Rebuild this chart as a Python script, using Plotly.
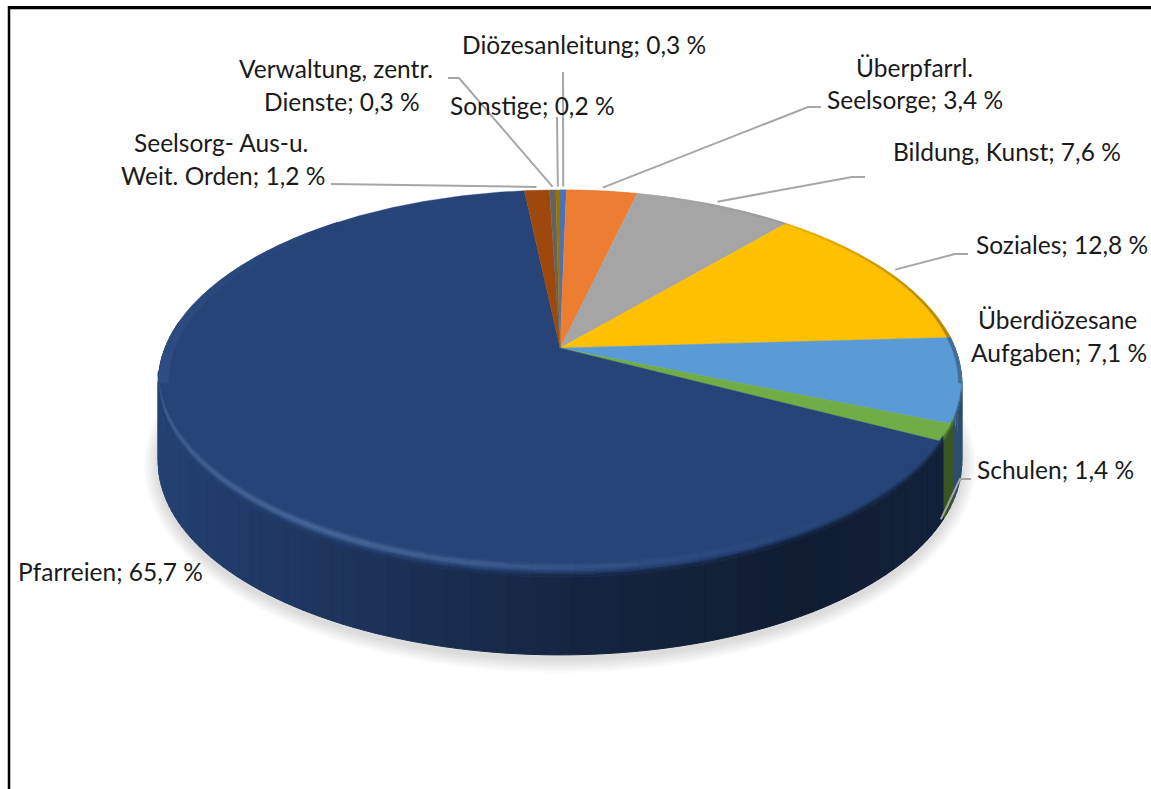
import numpy as np
import plotly.graph_objects as go

# ---------- data ----------
categories = ["Diözesanleitung", "Überpfarrl. Seelsorge", "Bildung, Kunst", "Soziales",
              "Überdiözesane Aufgaben", "Schulen", "Pfarreien", "Seelsorg- Aus-u. Weit. Orden",
              "Verwaltung, zentr. Dienste", "Sonstige"]
values = [0.3, 3.4, 7.6, 12.8, 7.1, 1.4, 65.7, 1.2, 0.3, 0.2]
colors = ["#4472c4", "#ed7d31", "#a5a5a5", "#ffc000", "#5b9bd5",
          "#70ad47", "#264478", "#9e480e", "#636363", "#997300"]

# ---------- projection of the tilted disc ----------
CX, CY, A, B, K, DEPTH = 560, 348, 395, 187, 0.183, 78
FONT = "Lato"
FS = 24.5


def proj(theta_deg, r=1.0):
    t = np.radians(theta_deg)
    u, v = r * np.sin(t), r * np.cos(t)
    w = 1 + K * v
    return CX + A * u / w, CY - B * v / w


def rgb(h):
    return np.array([int(h[i:i + 2], 16) for i in (1, 3, 5)], float)


def hx(c):
    c = np.clip(np.round(c / 2) * 2, 0, 255).astype(int)
    return "#%02x%02x%02x" % tuple(c)


def side_factor(x):
    return np.interp(x, [157, 300, 560, 800, 960], [0.95, 0.8, 0.55, 0.42, 0.5])


total = sum(values)
edges = np.concatenate([[0], np.cumsum(values)]) / total * 360
mids = (edges[:-1] + edges[1:]) / 2

fig = go.Figure()


def poly(xs, ys, color, lw=0.7):
    fig.add_trace(go.Scatter(x=xs, y=ys, mode="lines", fill="toself", fillcolor=color,
                             line=dict(color=color, width=lw), hoverinfo="skip",
                             showlegend=False))


# ---------- soft shadow ----------
ang = np.linspace(0, 360, 181)
for d in np.arange(14, 0, -2):
    sx, sy = proj(ang)
    cy0 = (sy.max() + sy.min()) / 2
    rx = (sx.max() - sx.min()) / 2
    ry = (sy.max() - sy.min()) / 2
    xs = CX + (sx - CX) * (rx + d) / rx
    ys = cy0 + DEPTH + 4 + (sy - cy0) * (ry + d) / ry
    poly(xs, ys, "rgba(0,0,0,0.019)", lw=0)

# ---------- side wall, grouped by quantised colour ----------
groups = {}
for i in range(len(values)):
    lo, hi = max(edges[i], 85), min(edges[i + 1], 278)
    if hi <= lo:
        continue
    n = max(1, int((hi - lo) / 1.5))
    grid = np.linspace(lo, hi, n + 1)
    for s, e in zip(grid[:-1], grid[1:]):
        x, y = proj(np.linspace(s, e, 4))
        col = hx(rgb(colors[i]) * side_factor(x.mean()))
        g = groups.setdefault(col, ([], []))
        g[0].extend(list(x) + list(x[::-1]) + [x[0], None])
        g[1].extend(list(y) + list(y[::-1] + DEPTH) + [y[0], None])
for col, (gx, gy) in groups.items():
    poly(gx, gy, col, lw=1.0)

# ---------- top face ----------
for i in range(len(values)):
    aa = np.linspace(edges[i], edges[i + 1], max(3, int(values[i] * 12)))
    x, y = proj(aa)
    poly([CX] + list(x) + [CX], [CY] + list(y) + [CY], colors[i], lw=0.4)

# ---------- bevel: strips displaced vertically from the front rim ----------
offsets = np.arange(-18, 1.5, 1.5)
rgroups = {}
for i in range(len(values)):
    lo, hi = max(edges[i], 100.5), min(edges[i + 1], 259.5)
    if hi <= lo:
        continue
    n = max(1, int((hi - lo) / 2.5))
    grid = np.linspace(lo, hi, n + 1)
    base = rgb(colors[i])
    for s, e in zip(grid[:-1], grid[1:]):
        m = (s + e) / 2
        H = np.exp(-((m - 215) / 42) ** 2) if m < 215 else 1 - 0.35 * (m - 215) / 45
        fade = np.clip((259.5 - m) / 8, 0, 1) * np.clip((m - 100.5) / 5, 0, 1)
        xm = proj(m)[0]
        sidec = base * side_factor(xm)
        for d0, d1 in zip(offsets[:-1], offsets[1:]):
            dm = (d0 + d1) / 2
            q = np.clip((dm + 7) / 8, 0, 1)
            q = q * q * (3 - 2 * q) * fade
            c = base * (1 - q) + sidec * q
            glow = H * fade * np.exp(-((dm + 9.5) / 3.2) ** 2) * 0.3
            c = c * (1 - glow) + np.array([150, 180, 225]) * glow
            if np.allclose(c, base, atol=2):
                continue
            aa = np.linspace(s, e, 3)
            xa, ya = proj(aa)
            col = hx(c)
            g = rgroups.setdefault(col, ([], []))
            g[0].extend(list(xa) + list(xa[::-1]) + [xa[0], None])
            g[1].extend(list(ya + d0) + list(ya[::-1] + d1) + [ya[0] + d0, None])
for col, (gx, gy) in rgroups.items():
    poly(gx, gy, col, lw=0.6)

# darker outer edge on the right, lighter outer edge on the left of the disc
edge_bands = {}
for i in range(len(values)):
    for lo, hi, kind in ((edges[i], min(edges[i + 1], 100.5), "dark"),
                         (max(edges[i], 259.5), min(edges[i + 1], 320), "light")):
        if hi <= lo:
            continue
        n = max(1, int((hi - lo) / 3))
        grid = np.linspace(lo, hi, n + 1)
        for s, e in zip(grid[:-1], grid[1:]):
            m = (s + e) / 2
            aa = np.linspace(s, e, 3)
            if kind == "dark":
                c = rgb(colors[i]) * (1 - 0.3 * np.sin(np.radians(m)) ** 3)
                r0 = 0.992
            else:
                g_ = np.clip((320 - m) / 60, 0, 1) * 0.1
                c = rgb(colors[i]) * (1 - g_) + np.array([120, 160, 225]) * g_
                r0 = 0.975
            xa, ya = proj(aa, r0)
            xb, yb = proj(aa, 1.0)
            col = hx(c)
            g = edge_bands.setdefault(col, ([], []))
            g[0].extend(list(xa) + list(xb[::-1]) + [xa[0], None])
            g[1].extend(list(ya) + list(yb[::-1]) + [ya[0], None])
for col, (gx, gy) in edge_bands.items():
    poly(gx, gy, col, lw=0.5)

# ---------- leader lines: rim anchor comes from the slice, elbows from the layout ----------
LEADER = "#a6a6a6"
leaders = {
    0: ([(563, 72)], 0),
    9: ([(557, 117)], 0),
    8: ([(448, 78), (459, 78)], 0),
    7: ([(331, 184)], 0),
    1: ([(821, 107), (808, 107)], 0),
    2: ([(865, 177), (852, 177)], 0),
    3: ([(968, 254), (955, 254)], 0),
    5: ([(971, 479), (960, 479)], DEPTH),
}
for idx, (pts, dy) in leaders.items():
    ax, ay = proj(mids[idx], 1.025)
    if dy:
        ax, ay = ax - 18, ay + dy + 6
    xs = [p[0] for p in pts] + [float(ax)]
    ys = [p[1] for p in pts] + [float(ay)]
    fig.add_trace(go.Scatter(x=xs, y=ys, mode="lines", line=dict(color=LEADER, width=2),
                             hoverinfo="skip", showlegend=False))

# ---------- labels ----------
labels = [
    ("Diözesanleitung; 0,3 %", 461, 44),
    ("Verwaltung, zentr.", 238, 68),
    ("Dienste; 0,3 %", 263, 101),
    ("Sonstige; 0,2 %", 449, 105),
    ("Seelsorg- Aus-u.", 133, 142),
    ("Weit. Orden; 1,2 %", 120, 175),
    ("Überpfarrl.", 855, 67),
    ("Seelsorge; 3,4 %", 826, 99),
    ("Bildung, Kunst; 7,6 %", 892, 151),
    ("Soziales; 12,8 %", 975, 244),
    ("Überdiözesane", 977, 319),
    ("Aufgaben; 7,1 %", 970, 352),
    ("Schulen; 1,4 %", 976, 469),
    ("Pfarreien; 65,7 %", 17, 571),
]
annotations = [dict(x=x, y=y, text=t, showarrow=False, xanchor="left", yanchor="middle",
                    xref="x", yref="y", borderpad=0,
                    font=dict(family=FONT, size=FS, color="#1a1a1a"))
               for t, x, y in labels]

shapes = [
    dict(type="line", xref="x", yref="y", x0=8, x1=1151, y0=9.5, y1=9.5,
         line=dict(color="#bdbdbd", width=1)),
    dict(type="line", xref="x", yref="y", x0=8, x1=1151, y0=7.5, y1=7.5,
         line=dict(color="#000000", width=3)),
    dict(type="line", xref="x", yref="y", x0=9, x1=9, y0=6, y1=789,
         line=dict(color="#000000", width=2.5)),
]

fig.update_layout(
    width=1151, height=789, autosize=False,
    margin=dict(l=0, r=0, t=0, b=0),
    paper_bgcolor="white", plot_bgcolor="white",
    showlegend=False, annotations=annotations, shapes=shapes,
    xaxis=dict(range=[0, 1151], visible=False, fixedrange=True),
    yaxis=dict(range=[789, 0], visible=False, fixedrange=True),
)
fig.write_html("out.html", config=dict(displayModeBar=False),
               post_script="document.body.style.margin='0';document.body.style.overflow='hidden';")
